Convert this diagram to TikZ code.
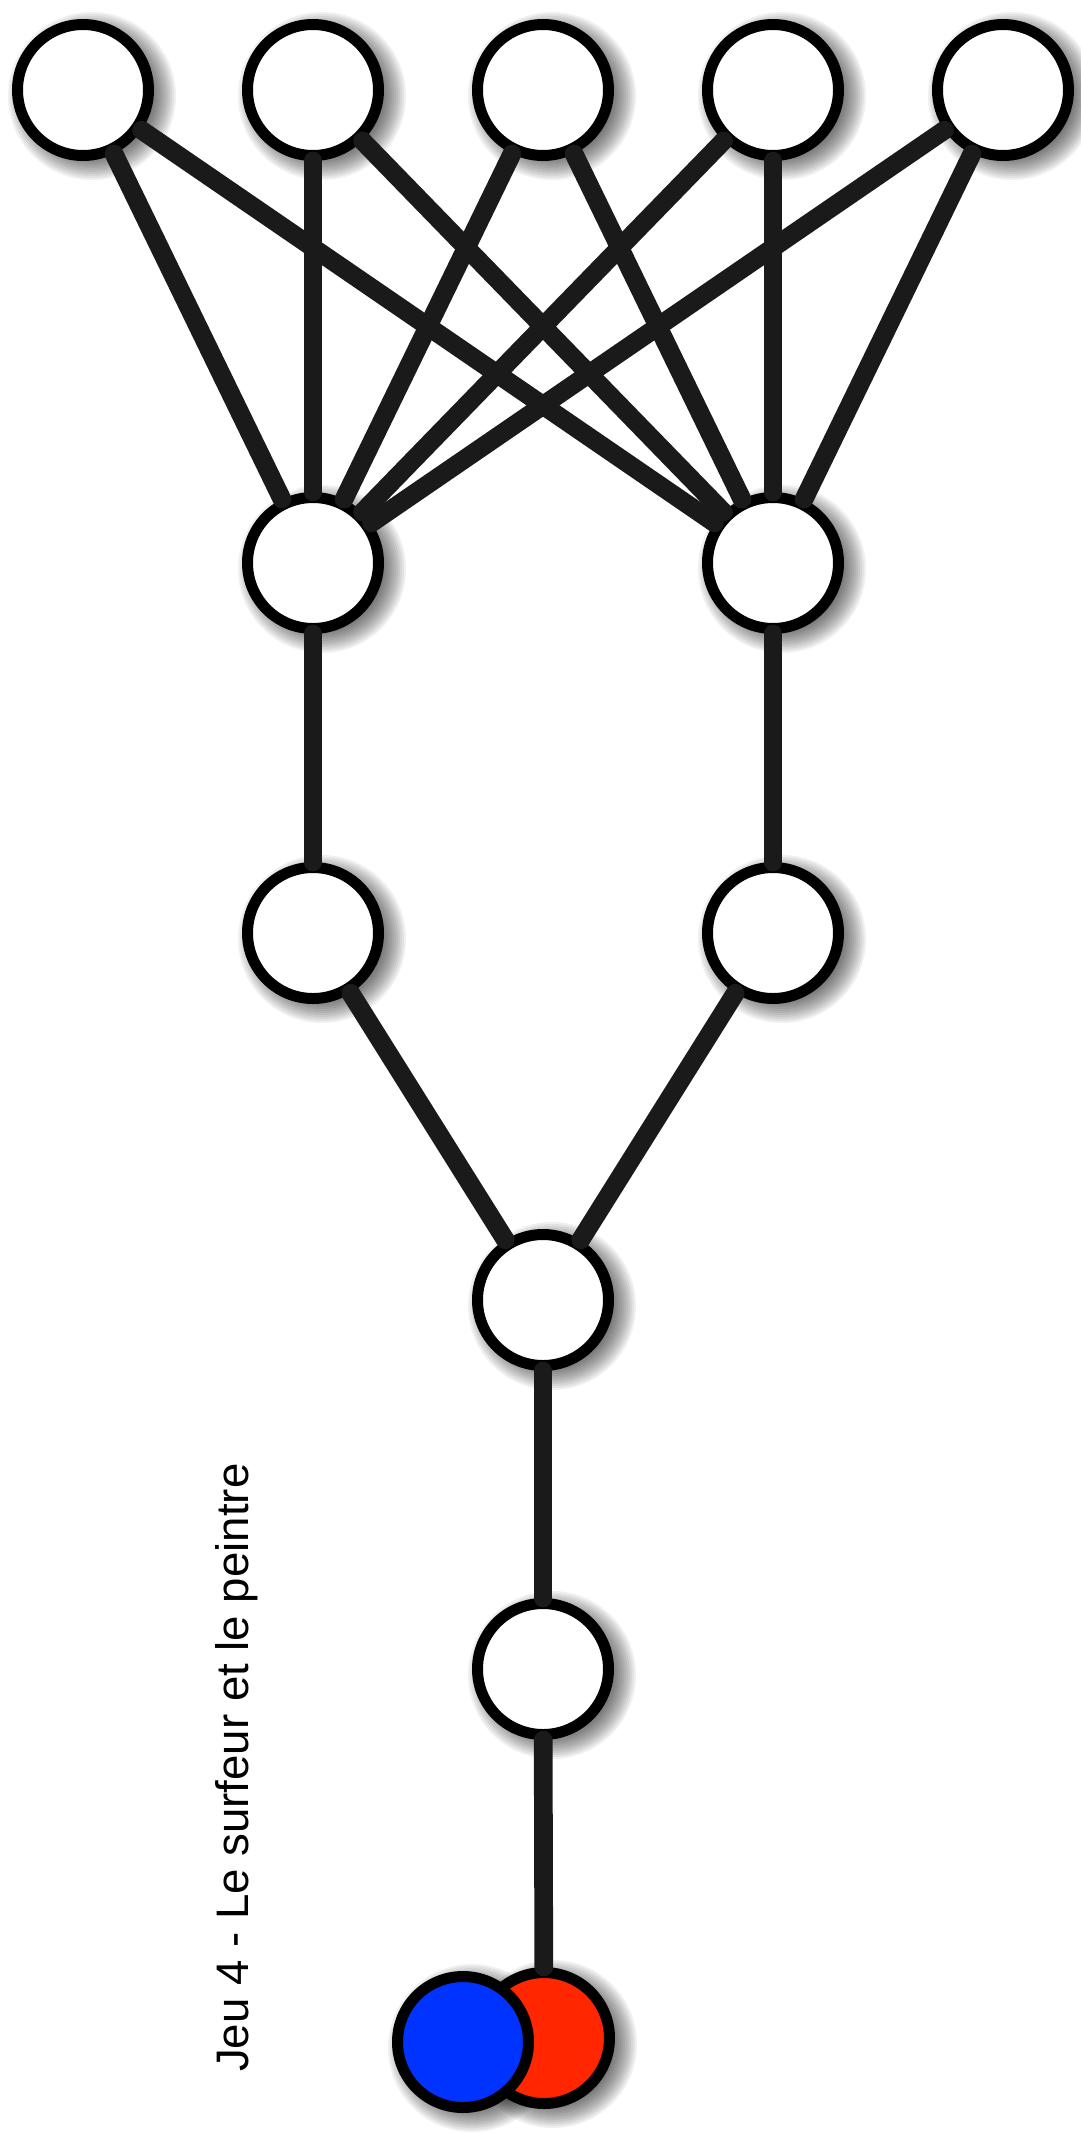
\documentclass[tikz,border=0pt]{standalone}
\usepackage{fontspec}
\setmainfont{Liberation Sans}
\definecolor{edgegray}{HTML}{1A1A1A}
\definecolor{pblue}{RGB}{0,51,255}
\definecolor{pred}{RGB}{255,38,0}
\tikzset{
  nd/.style={circle, draw=black, line width=11pt, fill=white, minimum size=131pt, inner sep=0pt},
  edge/.style={draw=edgegray, line width=18.7pt, line cap=round},
}
\newcommand{\softshadow}[2]{%
  \foreach \r in {56,58,...,84} {\fill[black, fill opacity=0.06] (#1+9,#2+6) circle (\r);}%
}
\begin{document}
\begin{tikzpicture}[x=1pt,y=-1pt]
\useasboundingbox (0,0) rectangle (1081,2134);
% shadows
\foreach \px/\py in {83/90,313/90,543/90,773/90,1003/90,313/563,773/563,313/933,773/933,543/1300,543/1669,544/2038,463/2042} {\softshadow{\px}{\py}}
% nodes
\node[nd] (t1) at (83,90) {};
\node[nd] (t2) at (313,90) {};
\node[nd] (t3) at (543,90) {};
\node[nd] (t4) at (773,90) {};
\node[nd] (t5) at (1003,90) {};
\node[nd] (m1) at (313,563) {};
\node[nd] (m2) at (773,563) {};
\node[nd] (l1) at (313,933) {};
\node[nd] (l2) at (773,933) {};
\node[nd] (c) at (543,1300) {};
\node[nd] (d) at (543,1669) {};
\node[nd, fill=pred] (red) at (544,2038) {};
% edges
\foreach \t in {t1,t2,t3,t4,t5} {
  \draw[edge] (\t) -- (m1);
  \draw[edge] (\t) -- (m2);
}
\draw[edge] (m1) -- (l1);
\draw[edge] (m2) -- (l2);
\draw[edge] (l1) -- (c);
\draw[edge] (l2) -- (c);
\draw[edge] (c) -- (d);
\draw[edge] (d) -- (red);
\node[nd, fill=pblue] (blue) at (463,2042) {};
% label
\node[rotate=90, anchor=base west, inner sep=0pt] (title) at (248,2072) {\fontsize{45.6}{50}\selectfont Jeu 4 - Le surfeur et le peintre};
\end{tikzpicture}
\end{document}
